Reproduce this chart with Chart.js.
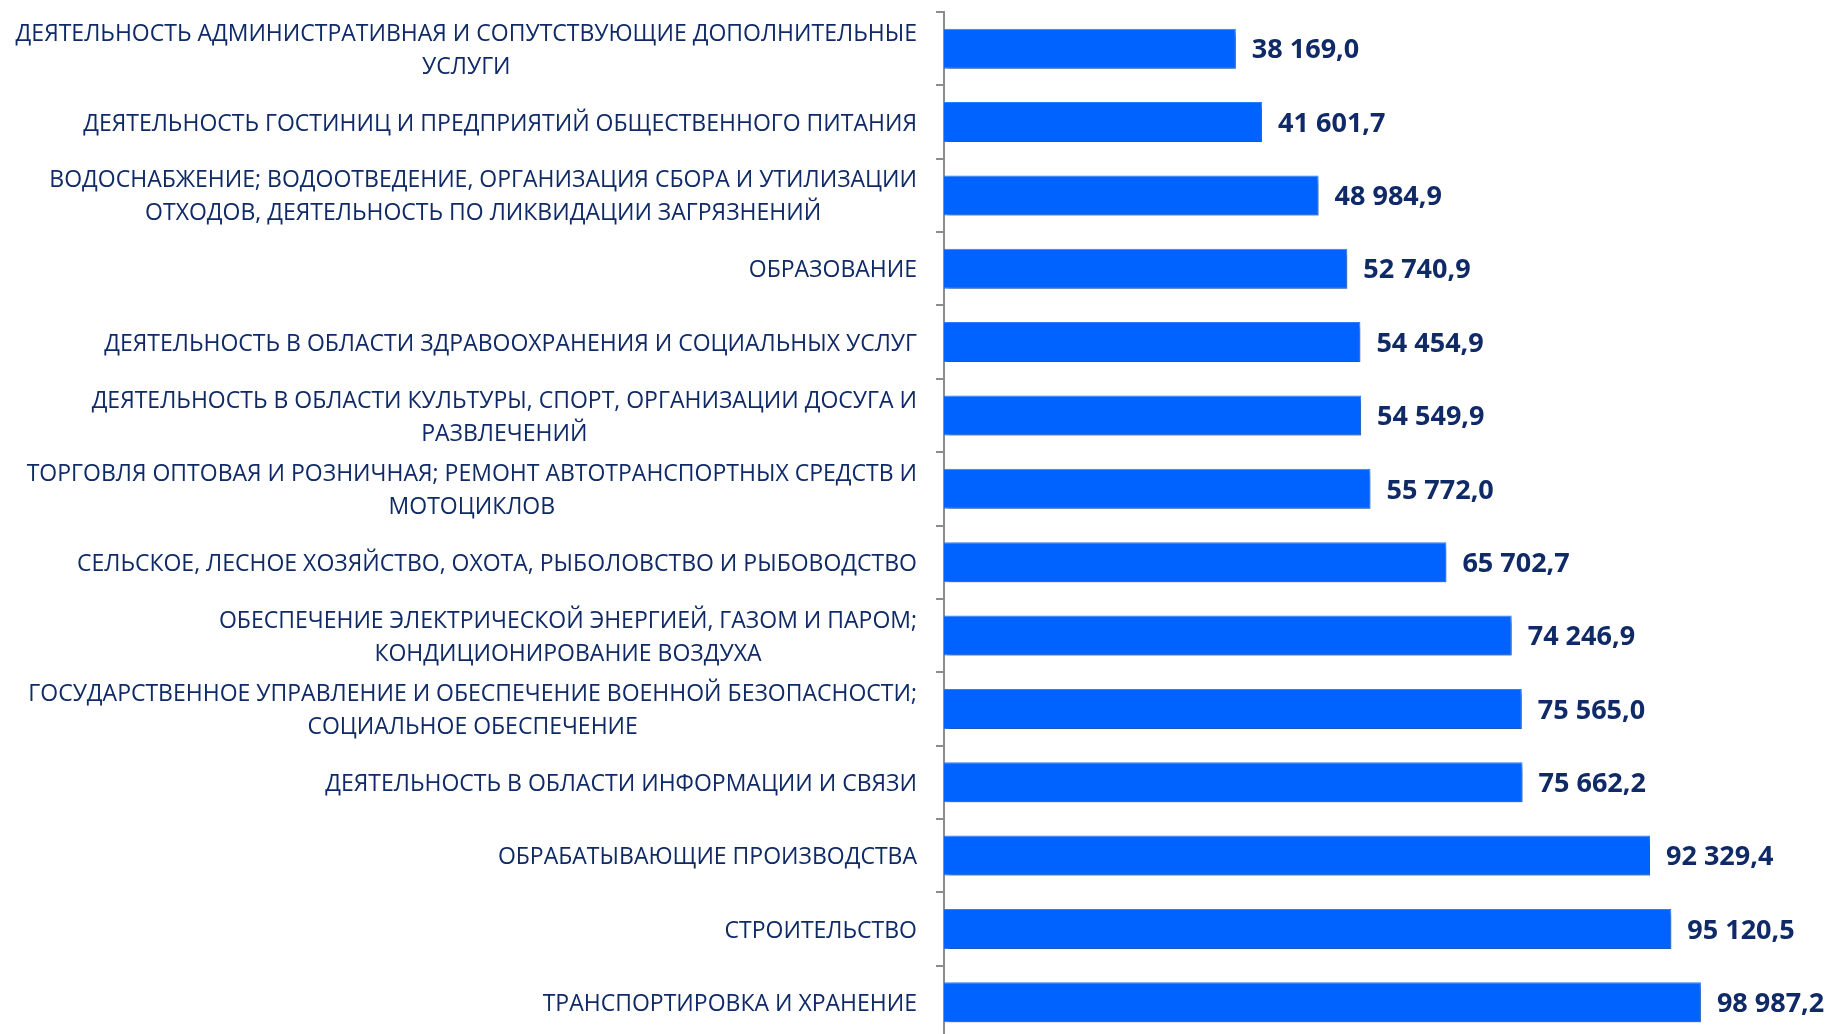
<!DOCTYPE html>
<html>
<head>
<meta charset="utf-8">
<script src="https://cdn.jsdelivr.net/npm/chart.js@4.4.1/dist/chart.umd.min.js"></script>
<style>
    html, body { margin: 0; padding: 0; background: #fff; overflow: hidden; }
    #wrap { width: 1831px; height: 1039px; position: relative; }
</style>
</head>
<body>
<div id="wrap"><canvas id="salary"></canvas></div>
<script>
const categories = [
    ['ДЕЯТЕЛЬНОСТЬ АДМИНИСТРАТИВНАЯ И СОПУТСТВУЮЩИЕ ДОПОЛНИТЕЛЬНЫЕ', 'УСЛУГИ'],
    ['ДЕЯТЕЛЬНОСТЬ ГОСТИНИЦ И ПРЕДПРИЯТИЙ ОБЩЕСТВЕННОГО ПИТАНИЯ'],
    ['ВОДОСНАБЖЕНИЕ; ВОДООТВЕДЕНИЕ, ОРГАНИЗАЦИЯ СБОРА И УТИЛИЗАЦИИ', 'ОТХОДОВ, ДЕЯТЕЛЬНОСТЬ ПО ЛИКВИДАЦИИ ЗАГРЯЗНЕНИЙ'],
    ['ОБРАЗОВАНИЕ'],
    ['ДЕЯТЕЛЬНОСТЬ В ОБЛАСТИ ЗДРАВООХРАНЕНИЯ И СОЦИАЛЬНЫХ УСЛУГ'],
    ['ДЕЯТЕЛЬНОСТЬ В ОБЛАСТИ КУЛЬТУРЫ, СПОРТ, ОРГАНИЗАЦИИ ДОСУГА И', 'РАЗВЛЕЧЕНИЙ'],
    ['ТОРГОВЛЯ ОПТОВАЯ И РОЗНИЧНАЯ; РЕМОНТ АВТОТРАНСПОРТНЫХ СРЕДСТВ И', 'МОТОЦИКЛОВ'],
    ['СЕЛЬСКОЕ, ЛЕСНОЕ ХОЗЯЙСТВО, ОХОТА, РЫБОЛОВСТВО И РЫБОВОДСТВО'],
    ['ОБЕСПЕЧЕНИЕ ЭЛЕКТРИЧЕСКОЙ ЭНЕРГИЕЙ, ГАЗОМ И ПАРОМ;', 'КОНДИЦИОНИРОВАНИЕ ВОЗДУХА'],
    ['ГОСУДАРСТВЕННОЕ УПРАВЛЕНИЕ И ОБЕСПЕЧЕНИЕ ВОЕННОЙ БЕЗОПАСНОСТИ;', 'СОЦИАЛЬНОЕ ОБЕСПЕЧЕНИЕ'],
    ['ДЕЯТЕЛЬНОСТЬ В ОБЛАСТИ ИНФОРМАЦИИ И СВЯЗИ'],
    ['ОБРАБАТЫВАЮЩИЕ ПРОИЗВОДСТВА'],
    ['СТРОИТЕЛЬСТВО'],
    ['ТРАНСПОРТИРОВКА И ХРАНЕНИЕ']
];
const values = [38169.0, 41601.7, 48984.9, 52740.9, 54454.9, 54549.9, 55772.0,
    65702.7, 74246.9, 75565.0, 75662.2, 92329.4, 95120.5, 98987.2];

const textColor = '#0f2a66';
const labelFont = '400 23px "Open Sans", sans-serif';
const valueFont = '700 27px "Open Sans", sans-serif';

function fmt(v) {
    const parts = v.toFixed(1).split('.');
    return parts[0].replace(/\B(?=(\d{3})+(?!\d))/g, ' ') + ',' + parts[1];
}

// тень под столбцами
const barShadow = {
    id: 'barShadow',
    beforeDatasetsDraw(chart) {
        const ctx = chart.ctx;
        ctx.save();
        ctx.shadowColor = 'rgba(0, 0, 0, 0.35)';
        ctx.shadowBlur = 5;
        ctx.shadowOffsetX = 3;
        ctx.shadowOffsetY = 4;
    },
    afterDatasetsDraw(chart) {
        chart.ctx.restore();
    }
};

// подписи категорий (строки центрируются внутри блока) и значения
const labelsPlugin = {
    id: 'labelsPlugin',
    afterDraw(chart) {
        const ctx = chart.ctx;
        const yScale = chart.scales.y;
        const right = chart.chartArea.left - 27;
        const lineH = 33;
        ctx.save();
        ctx.fillStyle = textColor;
        ctx.textBaseline = 'middle';
        ctx.textAlign = 'center';
        ctx.font = labelFont;
        categories.forEach((lines, i) => {
            const y = yScale.getPixelForValue(i);
            const w = Math.max(...lines.map(l => ctx.measureText(l).width));
            const cx = right - w / 2;
            const y0 = y - (lines.length - 1) * lineH / 2 + 2;
            lines.forEach((l, j) => ctx.fillText(l, cx, y0 + j * lineH));
        });
        ctx.textAlign = 'left';
        ctx.font = valueFont;
        const meta = chart.getDatasetMeta(0);
        meta.data.forEach((bar, i) => {
            ctx.fillText(fmt(values[i]), bar.x + 16, bar.y + 2);
        });
        ctx.restore();
    }
};

const ctxSalary = document.getElementById('salary').getContext('2d');
const salaryChart = new Chart(ctxSalary, {
    type: 'bar',
    data: {
        labels: categories,
        datasets: [{
            data: values,
            backgroundColor: '#0063ff',
            borderColor: '#2f7dff',
            borderWidth: 1,
            categoryPercentage: 1,
            barPercentage: 0.545
        }]
    },
    options: {
        indexAxis: 'y',
        responsive: true,
        maintainAspectRatio: false,
        animation: false,
        layout: {
            padding: { top: 12, right: 0, bottom: 0, left: 0 }
        },
        plugins: {
            legend: { display: false },
            tooltip: { enabled: false }
        },
        scales: {
            x: {
                display: false,
                min: 0,
                max: 116000
            },
            y: {
                afterFit(scale) {
                    scale.width = 944;
                },
                ticks: { display: false },
                grid: {
                    offset: true,
                    drawOnChartArea: false,
                    drawTicks: true,
                    tickLength: 8,
                    color: '#8c8c8c',
                    lineWidth: 2
                },
                border: {
                    display: true,
                    color: '#8c8c8c',
                    width: 2
                }
            }
        }
    },
    plugins: [barShadow, labelsPlugin]
});
</script>
</body>
</html>
